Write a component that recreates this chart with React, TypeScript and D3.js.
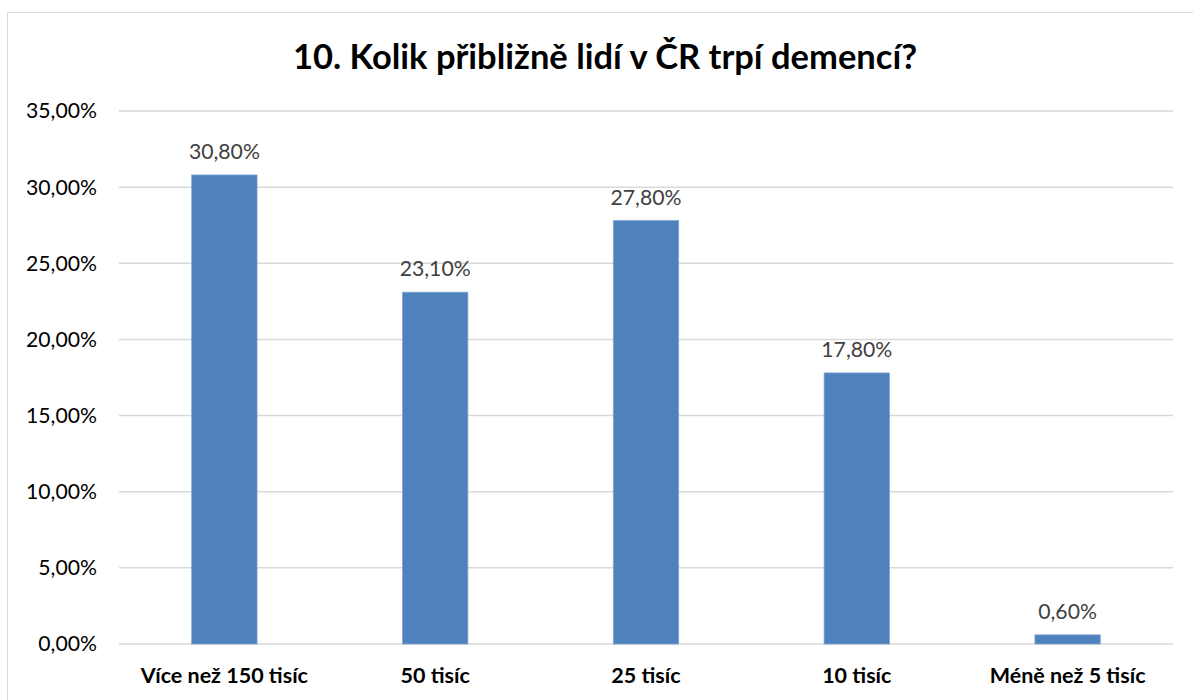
import React from 'react';
import * as d3 from 'd3';

const categories = ['Více než 150 tisíc', '50 tisíc', '25 tisíc', '10 tisíc', 'Méně než 5 tisíc'];
const values = [30.8, 23.1, 27.8, 17.8, 0.6];
const yTicks = [0, 5, 10, 15, 20, 25, 30, 35];
const title = '10. Kolik přibližně lidí v ČR trpí demencí?';

const W = 1193;
const H = 700;
const FONT = 'Lato, "Open Sans", sans-serif';
const fmt = (v: number) => v.toFixed(2).replace('.', ',') + '%';

export default function App() {
  const margin = { left: 119, right: 20, top: 111, bottom: 56 };
  const x = d3.scaleBand<string>()
    .domain(categories)
    .range([margin.left, W - margin.right])
    .paddingInner(0.69)
    .paddingOuter(0.345);
  const y = d3.scaleLinear().domain([0, 35]).range([H - margin.bottom, margin.top]);
  const gridX0 = margin.left;
  const gridX1 = W - margin.right;

  return (
    <svg width={W} height={H} style={{ position: 'absolute', left: 0, top: 0, background: '#fff' }}>
      <rect x={7.5} y={12.5} width={W} height={H} fill="#fff" stroke="#d9d9d9" strokeWidth={1} />
      <text x={605} y={69} textAnchor="middle" fontFamily={FONT} fontWeight="bold" fontSize={34.5} fill="#000">
        {title}
      </text>
      {yTicks.map(t => (
        <g key={t}>
          <line x1={gridX0} x2={gridX1} y1={y(t)} y2={y(t)} stroke="#d9d9d9" strokeWidth={1.5} />
          <text x={97} y={y(t)} dy="0.35em" textAnchor="end" fontFamily={FONT} fontSize={21.2} fill="#000">
            {fmt(t)}
          </text>
        </g>
      ))}
      {categories.map((c, i) => (
        <g key={c}>
          <rect
            x={x(c)}
            y={y(values[i])}
            width={x.bandwidth()}
            height={y(0) - y(values[i])}
            fill="#4f81bd"
            stroke="#7ea3d3"
            strokeWidth={0.8}
          />
          <text
            x={(x(c) ?? 0) + x.bandwidth() / 2}
            y={y(values[i]) - 16}
            textAnchor="middle"
            fontFamily={FONT}
            fontSize={21.2}
            fill="#404040"
          >
            {fmt(values[i])}
          </text>
          <text
            x={(x(c) ?? 0) + x.bandwidth() / 2}
            y={683}
            textAnchor="middle"
            fontFamily={FONT}
            fontWeight="bold"
            fontSize={21.5}
            fill="#000"
          >
            {c}
          </text>
        </g>
      ))}
    </svg>
  );
}
